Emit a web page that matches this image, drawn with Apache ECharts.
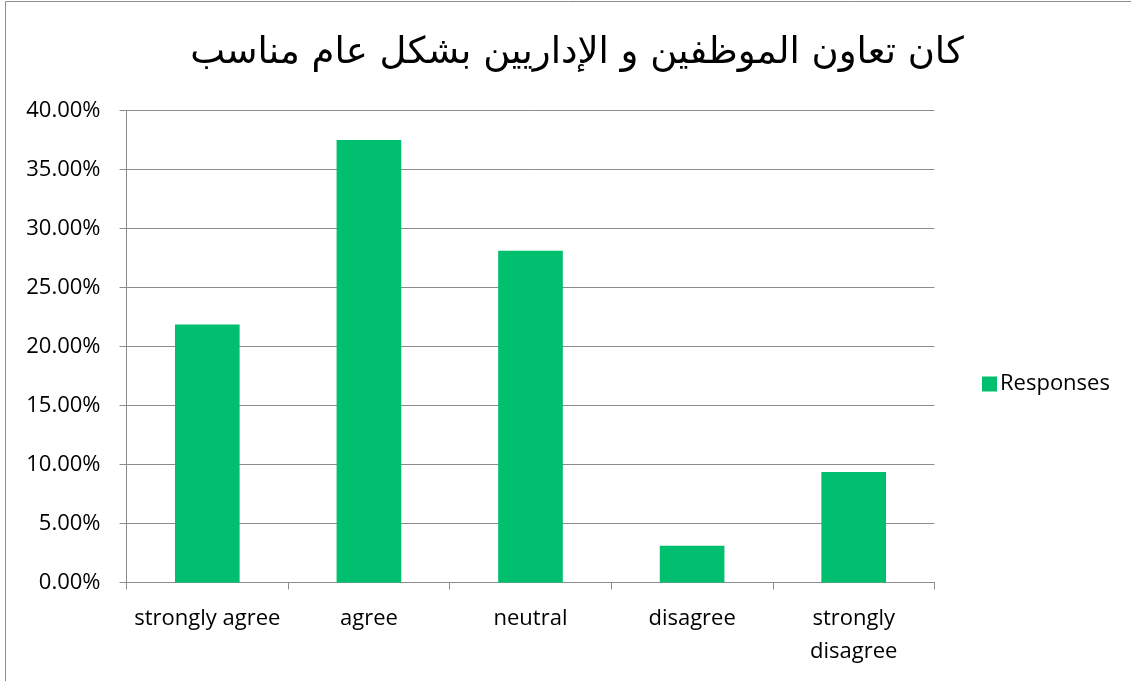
<!DOCTYPE html>
<html>
<head>
<meta charset="utf-8">
<script src="https://cdn.jsdelivr.net/npm/echarts@6/dist/echarts.min.js"></script>
<style>
html,body{margin:0;padding:0;background:#fff;}
#chart{width:1131px;height:681px;}
</style>
</head>
<body>
<div id="chart"></div>
<script>
var titleText = 'كان تعاون الموظفين و الإداريين بشكل عام مناسب';
var categories = ['strongly agree', 'agree', 'neutral', 'disagree', 'strongly\ndisagree'];
var seriesName = 'Responses';
var responses = [21.875, 37.5, 28.125, 3.125, 9.375];
var yMin = 0, yMax = 40, yStep = 5;

var chart = echarts.init(document.getElementById('chart'), null, {renderer: 'canvas'});
chart.setOption({
  backgroundColor: '#ffffff',
  animation: false,
  graphic: [{
    type: 'rect',
    shape: {x: 5.5, y: 1.5, width: 1200, height: 800},
    style: {fill: 'none', stroke: '#8c8c8c', lineWidth: 1},
    silent: true
  }],
  title: {
    text: titleText,
    left: 572, top: 30, textAlign: 'center',
    textStyle: {fontFamily: 'DejaVu Sans', fontSize: 37, fontWeight: 'normal', color: '#000'}
  },
  legend: {
    orient: 'vertical',
    left: 977, top: 368,
    itemWidth: 15, itemHeight: 15, itemGap: 10,
    icon: 'rect',
    textStyle: {fontFamily: 'Open Sans', fontSize: 22, color: '#000', padding: [0,0,0,-2]},
    data: [seriesName]
  },
  grid: {left: 126.5, right: 196.5, top: 110.5, bottom: 98.5, containLabel: false},
  xAxis: {
    type: 'category',
    data: categories,
    axisLine: {lineStyle: {color: '#8c8c8c', width: 1}},
    axisTick: {show: true, length: 7, lineStyle: {color: '#8c8c8c'}},
    axisLabel: {fontFamily: 'Open Sans', fontSize: 22, color: '#000', margin: 20, lineHeight: 33, interval: 0}
  },
  yAxis: {
    type: 'value',
    min: yMin, max: yMax, interval: yStep,
    axisLine: {show: true, lineStyle: {color: '#8c8c8c', width: 1}},
    axisTick: {show: true, length: 7, lineStyle: {color: '#8c8c8c'}},
    splitLine: {show: true, lineStyle: {color: '#8c8c8c', width: 1}},
    axisLabel: {
      fontFamily: 'Open Sans', fontSize: 22, color: '#000', margin: 26,
      formatter: function (v) { return v.toFixed(2) + '%'; }
    }
  },
  series: [{
    name: seriesName,
    type: 'bar',
    data: responses,
    barCategoryGap: '60%',
    itemStyle: {color: '#00bf6f'}
  }]
});
</script>
</body>
</html>
